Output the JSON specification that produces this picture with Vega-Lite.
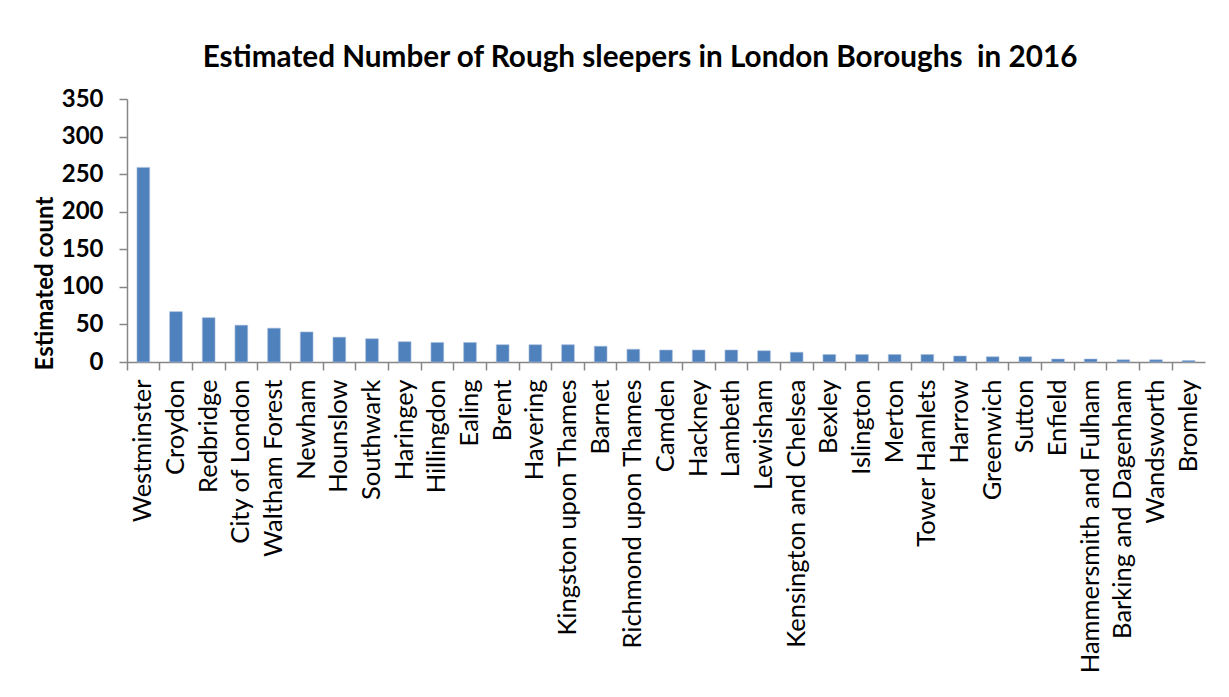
{
  "$schema": "https://vega.github.io/schema/vega-lite/v6.json",
  "width": 1078,
  "height": 263,
  "autosize": {"type": "none"},
  "padding": {"left": 127, "top": 99, "right": 24, "bottom": 335},
  "background": "white",
  "title": {
    "text": "Estimated Number of Rough sleepers in London Boroughs\u00a0 in 2016",
    "font": "Lato",
    "fontSize": 29.7,
    "fontWeight": "bold",
    "color": "black",
    "anchor": "middle",
    "dx": -26,
    "offset": 13
  },
  "data": {
    "values": [
      {"borough": "Westminster", "count": 259},
      {"borough": "Croydon", "count": 67},
      {"borough": "Redbridge", "count": 59},
      {"borough": "City of London", "count": 49},
      {"borough": "Waltham Forest", "count": 45},
      {"borough": "Newham", "count": 40},
      {"borough": "Hounslow", "count": 33},
      {"borough": "Southwark", "count": 31},
      {"borough": "Haringey", "count": 27},
      {"borough": "Hillingdon", "count": 26},
      {"borough": "Ealing", "count": 26},
      {"borough": "Brent", "count": 23},
      {"borough": "Havering", "count": 23},
      {"borough": "Kingston upon Thames", "count": 23},
      {"borough": "Barnet", "count": 21},
      {"borough": "Richmond upon Thames", "count": 17},
      {"borough": "Camden", "count": 16},
      {"borough": "Hackney", "count": 16},
      {"borough": "Lambeth", "count": 16},
      {"borough": "Lewisham", "count": 15},
      {"borough": "Kensington and Chelsea", "count": 13},
      {"borough": "Bexley", "count": 10},
      {"borough": "Islington", "count": 10},
      {"borough": "Merton", "count": 10},
      {"borough": "Tower Hamlets", "count": 10},
      {"borough": "Harrow", "count": 8},
      {"borough": "Greenwich", "count": 7},
      {"borough": "Sutton", "count": 7},
      {"borough": "Enfield", "count": 4},
      {"borough": "Hammersmith and Fulham", "count": 4},
      {"borough": "Barking and Dagenham", "count": 3},
      {"borough": "Wandsworth", "count": 3},
      {"borough": "Bromley", "count": 2}
    ]
  },
  "mark": {"type": "bar", "color": "#4F81BD", "stroke": "#A9C0DE", "strokeWidth": 0.6, "width": {"band": 0.39}},
  "encoding": {
    "x": {
      "field": "borough",
      "type": "nominal",
      "sort": null,
      "scale": {"paddingInner": 0, "paddingOuter": 0},
      "axis": {
        "title": null,
        "bandPosition": 0,
        "labelAngle": -90,
        "labelAlign": "right",
        "labelBaseline": "middle",
        "labelFont": "Lato",
        "labelFontSize": 25.5,
        "labelColor": "black",
        "labelPadding": 9,
        "labelLimit": 400,
        "tickSize": 8,
        "tickColor": "#868686",
        "tickWidth": 1.5,
        "domainColor": "#868686",
        "domainWidth": 1.5,
        "grid": false
      }
    },
    "y": {
      "field": "count",
      "type": "quantitative",
      "scale": {"domain": [0, 350], "nice": false},
      "axis": {
        "title": "Estimated count",
        "titleFont": "Lato",
        "titleFontSize": 24,
        "titleFontWeight": "bold",
        "titleColor": "black",
        "titleAngle": -90,
        "titleX": -82,
        "titleY": 184,
        "titleAlign": "center",
        "titleBaseline": "middle",
        "values": [0, 50, 100, 150, 200, 250, 300, 350],
        "labelFont": "Lato",
        "labelFontSize": 24,
        "labelFontWeight": "bold",
        "labelColor": "black",
        "labelPadding": 16,
        "tickSize": 8,
        "tickColor": "#868686",
        "tickWidth": 1.5,
        "domainColor": "#868686",
        "domainWidth": 1.5,
        "grid": false
      }
    }
  },
  "config": {"view": {"stroke": null}}
}
